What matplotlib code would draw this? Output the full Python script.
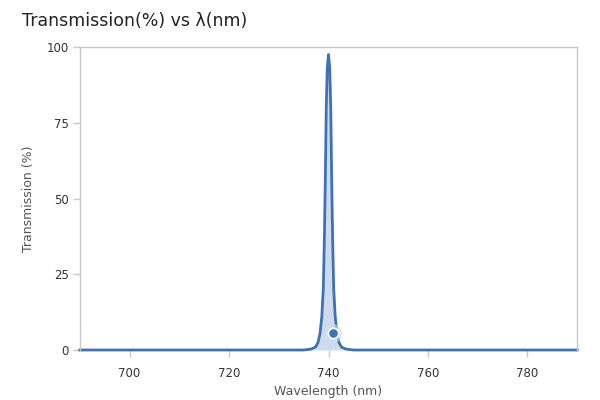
import matplotlib
matplotlib.use("Agg")
import matplotlib.pyplot as plt

# transmission spectrum (nm, %)
wavelength = [690, 735.0, 736.5, 737.4, 737.9, 738.3, 738.65, 738.95, 739.15, 739.35,
              739.55, 739.75, 740.0, 740.25, 740.45, 740.65, 740.85, 741.05, 741.35,
              741.7, 742.1, 742.6, 743.5, 745.0, 790]
transmission = [0, 0, 0.3, 1.0, 2.5, 5.5, 11, 20, 35, 55,
                 80, 93, 97.5, 93, 80, 55, 35, 20, 11,
                 5.5, 2.5, 1.0, 0.3, 0, 0]

hover_x = [741.0]
hover_y = [5.6]

x_ticks = [700, 720, 740, 760, 780]
y_ticks = [0, 25, 50, 75, 100]

line_color = "#3f72b3"
grid_color = "#c8c8c8"
text_color = "#333333"

plt.rcParams['font.family'] = ['DejaVu Sans']

fig = plt.figure(figsize=(6, 4), dpi=100)
ax = fig.add_axes([0.133, 0.125, 0.829, 0.7575])

ax.fill_between(wavelength, transmission, 0, color="#c9d8ed", alpha=0.9, linewidth=0)
ax.plot(wavelength, transmission, color=line_color, linewidth=2.0, clip_on=False,
        solid_joinstyle="round")

# hover marker with halo
ax.scatter(hover_x, hover_y, s=170, color="#d3dff0", alpha=0.6, zorder=4, linewidths=0)
ax.scatter(hover_x, hover_y, s=55, color=line_color, edgecolors="white",
           linewidths=1.2, zorder=5)

ax.set_xlim(690, 790)
ax.set_ylim(0, 100)
ax.set_xticks(x_ticks)
ax.set_yticks(y_ticks)

for side in ["top", "left", "right"]:
    ax.spines[side].set_color(grid_color)
    ax.spines[side].set_linewidth(1)
ax.spines["bottom"].set_visible(False)

ax.tick_params(axis="both", colors=grid_color, length=5, width=1,
               labelcolor=text_color, labelsize=8.5)
ax.tick_params(axis="x", pad=7)
ax.tick_params(axis="y", pad=3)

ax.set_xlabel("Wavelength (nm)", color="#555555", fontsize=9, labelpad=4)
ax.set_ylabel("Transmission (%)", color="#555555", fontsize=9, labelpad=8)

fig.text(0.037, 0.935, "Transmission(%) vs λ(nm)", fontsize=12.5, color="#222222",
         ha="left", va="baseline")

fig.savefig("out.png", dpi=100, facecolor="white")
